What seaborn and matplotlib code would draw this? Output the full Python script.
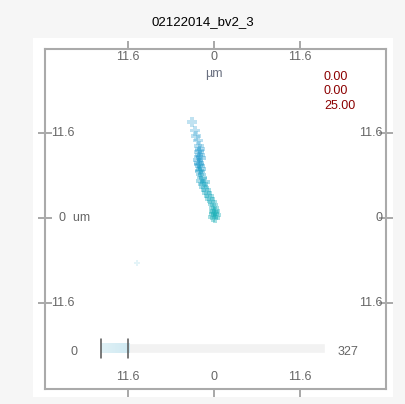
import numpy as np
import pandas as pd
import matplotlib
matplotlib.use("Agg")
import matplotlib.pyplot as plt
from matplotlib.colors import LinearSegmentedColormap
from matplotlib.patches import Rectangle
import seaborn as sns

title = "02122014_bv2_3"
tick_vals = [-11.6, 0, 11.6]
tick_labels = ["11.6", "0", "11.6"]
info_values = ["0.00", "0.00", "25.00"]
frame_min, frame_max = 0, 327
frame_sel = [0, 39]
frame_fill = 42

xs = [-2.97, -2.56, -2.43, -2.16, -2.02, -1.89, -2.02, -1.95, -1.89, -2.10,
      -1.75, -2.16, -2.02, -1.89, -2.05, -1.75, -1.89, -1.95, -1.75, -1.62,
      -1.75, -1.48, -1.21, -1.35, -1.08, -0.94, -0.67, -0.54, -0.27, -0.13,
      0.00, 0.13, 0.00, 0.27, -0.13, 0.13, 0.05, -10.4]
ys = [13.1, 11.9, 11.2, 10.6, 9.83, 9.42, 9.0, 9.2, 8.6, 8.4,
      8.2, 7.9, 7.5, 7.1, 7.3, 6.7, 6.3, 6.5, 5.9, 5.5,
      5.05, 4.64, 4.9, 4.2, 3.8, 3.4, 3.0, 2.6, 2.2, 1.8,
      1.37, 0.96, 0.55, 0.4, 0.14, 0.0, 0.8, -6.1]
ts = list(range(len(xs)))

sns.set_style("white")
plt.rcParams['font.family'] = ['Liberation Sans', 'DejaVu Sans']

fig = plt.figure(figsize=(4.05, 4.04), dpi=100, facecolor="#f6f6f6")
panel = Rectangle((33/405, 1-397/404), 360/405, 359/404,
                  transform=fig.transFigure, facecolor="white",
                  edgecolor="none", zorder=-10)
fig.patches.append(panel)
ax = fig.add_axes([45/405, 1-389/404, 341/405, 340/404])
ax.set_facecolor("white")

df = pd.DataFrame({"x": xs, "y": ys, "t": ts})
cmap = LinearSegmentedColormap.from_list("trk", ["#5ab4dc", "#1f98cc", "#1aa8c0", "#17b0b5"])
sns.scatterplot(data=df.iloc[:-1], x="x", y="y", hue="t", palette=cmap,
                marker="P", s=50, alpha=0.38, edgecolor="none", legend=False, ax=ax)
sns.scatterplot(data=df.iloc[-1:], x="x", y="y", color="#a8dbe8",
                marker="P", s=20, alpha=0.3, edgecolor="none", legend=False, ax=ax)

ax.set_xlim(-22.8, 23.2)
ax.set_ylim(-23.34, 23.06)
ax.set_xlabel("")
ax.set_ylabel("")
for s in ax.spines.values():
    s.set_color("#aaaaaa")
    s.set_linewidth(1.5)

ax.set_xticks(tick_vals)
ax.set_yticks(tick_vals)
ax.tick_params(axis="x", which="both", top=True, bottom=True, direction="out",
               length=6, width=1.2, color="#999999", labelbottom=False, labeltop=False)
ax.tick_params(axis="y", which="both", left=True, right=True, direction="inout",
               length=10, width=1.2, color="#999999", labelleft=False, labelright=False)

lab_color = "#666666"
fs = 9
for v, l in zip(tick_vals, tick_labels):
    ax.text(v, 22.0, l, ha="center", va="center", color=lab_color, fontsize=fs)
    ax.text(v, -21.7, l, ha="center", va="center", color=lab_color, fontsize=fs)
    if v != 0:
        ax.text(-22.0, v, l, ha="left", va="center", color=lab_color, fontsize=fs)
    ax.text(22.7, v, l, ha="right", va="center", color=lab_color, fontsize=fs)
ax.text(-20.9, 0, "0  um", ha="left", va="center", color=lab_color, fontsize=fs)
ax.text(0, 19.7, "µm", ha="center", va="center", color="#6a7080", fontsize=fs)

for i, v in enumerate(info_values):
    fig.text(324/405, 1-(77 + i*14.5)/404, v, ha="left", va="center",
             color="#8b0000", fontsize=fs)

fig.text(0.5, 1-22/404, title, ha="center", va="center", color="black", fontsize=9.5)

# frame slider
cax = fig.add_axes([101/405, 1-353/404, 224/405, 10/404])
cax.set_xlim(frame_min, frame_max)
cax.set_ylim(0, 1)
cax.axis("off")
cax.barh(0.5, frame_max - frame_min, left=frame_min, height=1, color="#f2f2f2")
grad = np.linspace(0, 1, 50).reshape(1, -1)
gcmap = LinearSegmentedColormap.from_list("g", ["#e0f1f6", "#cfe9f2"])
cax.imshow(grad, cmap=gcmap, aspect="auto", extent=[frame_min, frame_fill, 0, 1], zorder=2)
cax.set_xlim(frame_min, frame_max)
cax.set_ylim(0, 1)
for v in frame_sel:
    cax.plot([v, v], [-0.5, 1.4], color="#555555", lw=1.1, clip_on=False, zorder=3)
fig.text(74/405, 1-352/404, str(frame_min), ha="center", va="center", color=lab_color, fontsize=fs)
fig.text(348/405, 1-352/404, str(frame_max), ha="center", va="center", color=lab_color, fontsize=fs)

fig.savefig("out.png", dpi=100, facecolor=fig.get_facecolor())
